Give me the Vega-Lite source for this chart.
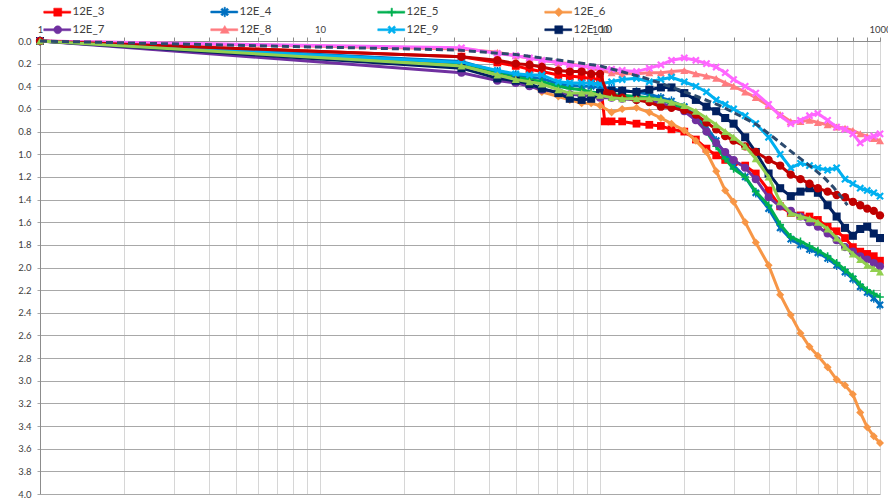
{
  "$schema": "https://vega.github.io/schema/vega-lite/v6.json",
  "width": 840,
  "height": 453,
  "autosize": {"type": "none"},
  "padding": {"left": 40, "top": 41, "right": 8, "bottom": 5},
  "background": "white",
  "config": {"view": {"stroke": null}, "font": "Lato"},
  "data": {"values": [
    {"s":"12E_3","x":1,"y":0},{"s":"12E_3","x":32,"y":0.14},{"s":"12E_3","x":43,"y":0.19},{"s":"12E_3","x":50,"y":0.22},{"s":"12E_3","x":56,"y":0.25},{"s":"12E_3","x":62,"y":0.27},{"s":"12E_3","x":71,"y":0.30},{"s":"12E_3","x":78,"y":0.31},{"s":"12E_3","x":86,"y":0.32},{"s":"12E_3","x":93,"y":0.33},{"s":"12E_3","x":100,"y":0.34},{"s":"12E_3","x":104,"y":0.71},{"s":"12E_3","x":110,"y":0.71},{"s":"12E_3","x":120,"y":0.71},{"s":"12E_3","x":135,"y":0.73},{"s":"12E_3","x":150,"y":0.74},{"s":"12E_3","x":165,"y":0.75},{"s":"12E_3","x":180,"y":0.78},{"s":"12E_3","x":200,"y":0.80},{"s":"12E_3","x":220,"y":0.87},{"s":"12E_3","x":240,"y":0.95},{"s":"12E_3","x":260,"y":1.01},{"s":"12E_3","x":280,"y":1.05},{"s":"12E_3","x":300,"y":1.07},{"s":"12E_3","x":330,"y":1.10},{"s":"12E_3","x":360,"y":1.17},{"s":"12E_3","x":400,"y":1.32},{"s":"12E_3","x":440,"y":1.46},{"s":"12E_3","x":480,"y":1.52},{"s":"12E_3","x":520,"y":1.54},{"s":"12E_3","x":560,"y":1.55},{"s":"12E_3","x":600,"y":1.58},{"s":"12E_3","x":650,"y":1.64},{"s":"12E_3","x":700,"y":1.68},{"s":"12E_3","x":750,"y":1.74},{"s":"12E_3","x":800,"y":1.82},{"s":"12E_3","x":850,"y":1.86},{"s":"12E_3","x":900,"y":1.88},{"s":"12E_3","x":950,"y":1.90},{"s":"12E_3","x":1000,"y":1.94},

    {"s":"12E_4","x":1,"y":0},{"s":"12E_4","x":32,"y":0.18},{"s":"12E_4","x":43,"y":0.27},{"s":"12E_4","x":50,"y":0.30},{"s":"12E_4","x":56,"y":0.32},{"s":"12E_4","x":62,"y":0.33},{"s":"12E_4","x":71,"y":0.38},{"s":"12E_4","x":78,"y":0.39},{"s":"12E_4","x":86,"y":0.40},{"s":"12E_4","x":93,"y":0.40},{"s":"12E_4","x":100,"y":0.41},{"s":"12E_4","x":110,"y":0.42},{"s":"12E_4","x":120,"y":0.44},{"s":"12E_4","x":135,"y":0.45},{"s":"12E_4","x":150,"y":0.47},{"s":"12E_4","x":165,"y":0.50},{"s":"12E_4","x":180,"y":0.53},{"s":"12E_4","x":200,"y":0.58},{"s":"12E_4","x":220,"y":0.66},{"s":"12E_4","x":240,"y":0.76},{"s":"12E_4","x":260,"y":0.88},{"s":"12E_4","x":280,"y":1.00},{"s":"12E_4","x":300,"y":1.10},{"s":"12E_4","x":330,"y":1.20},{"s":"12E_4","x":360,"y":1.34},{"s":"12E_4","x":400,"y":1.48},{"s":"12E_4","x":440,"y":1.65},{"s":"12E_4","x":480,"y":1.75},{"s":"12E_4","x":520,"y":1.80},{"s":"12E_4","x":560,"y":1.84},{"s":"12E_4","x":600,"y":1.87},{"s":"12E_4","x":650,"y":1.92},{"s":"12E_4","x":700,"y":1.98},{"s":"12E_4","x":750,"y":2.04},{"s":"12E_4","x":800,"y":2.10},{"s":"12E_4","x":850,"y":2.17},{"s":"12E_4","x":900,"y":2.22},{"s":"12E_4","x":950,"y":2.27},{"s":"12E_4","x":1000,"y":2.33},

    {"s":"12E_5","x":1,"y":0},{"s":"12E_5","x":32,"y":0.20},{"s":"12E_5","x":43,"y":0.29},{"s":"12E_5","x":50,"y":0.32},{"s":"12E_5","x":56,"y":0.34},{"s":"12E_5","x":62,"y":0.36},{"s":"12E_5","x":71,"y":0.40},{"s":"12E_5","x":78,"y":0.42},{"s":"12E_5","x":86,"y":0.43},{"s":"12E_5","x":93,"y":0.45},{"s":"12E_5","x":100,"y":0.46},{"s":"12E_5","x":110,"y":0.47},{"s":"12E_5","x":120,"y":0.48},{"s":"12E_5","x":135,"y":0.49},{"s":"12E_5","x":150,"y":0.50},{"s":"12E_5","x":165,"y":0.52},{"s":"12E_5","x":180,"y":0.55},{"s":"12E_5","x":200,"y":0.60},{"s":"12E_5","x":220,"y":0.68},{"s":"12E_5","x":240,"y":0.80},{"s":"12E_5","x":260,"y":0.93},{"s":"12E_5","x":280,"y":1.04},{"s":"12E_5","x":300,"y":1.13},{"s":"12E_5","x":330,"y":1.20},{"s":"12E_5","x":360,"y":1.33},{"s":"12E_5","x":400,"y":1.45},{"s":"12E_5","x":440,"y":1.62},{"s":"12E_5","x":480,"y":1.73},{"s":"12E_5","x":520,"y":1.77},{"s":"12E_5","x":560,"y":1.81},{"s":"12E_5","x":600,"y":1.85},{"s":"12E_5","x":650,"y":1.90},{"s":"12E_5","x":700,"y":1.96},{"s":"12E_5","x":750,"y":2.02},{"s":"12E_5","x":800,"y":2.08},{"s":"12E_5","x":850,"y":2.15},{"s":"12E_5","x":900,"y":2.20},{"s":"12E_5","x":950,"y":2.23},{"s":"12E_5","x":1000,"y":2.26},

    {"s":"12E_6","x":1,"y":0},{"s":"12E_6","x":32,"y":0.22},{"s":"12E_6","x":43,"y":0.30},{"s":"12E_6","x":50,"y":0.34},{"s":"12E_6","x":56,"y":0.38},{"s":"12E_6","x":62,"y":0.45},{"s":"12E_6","x":71,"y":0.49},{"s":"12E_6","x":78,"y":0.52},{"s":"12E_6","x":86,"y":0.55},{"s":"12E_6","x":93,"y":0.55},{"s":"12E_6","x":100,"y":0.57},{"s":"12E_6","x":110,"y":0.63},{"s":"12E_6","x":120,"y":0.60},{"s":"12E_6","x":135,"y":0.59},{"s":"12E_6","x":150,"y":0.63},{"s":"12E_6","x":165,"y":0.68},{"s":"12E_6","x":180,"y":0.73},{"s":"12E_6","x":200,"y":0.79},{"s":"12E_6","x":220,"y":0.88},{"s":"12E_6","x":240,"y":0.98},{"s":"12E_6","x":260,"y":1.15},{"s":"12E_6","x":280,"y":1.32},{"s":"12E_6","x":300,"y":1.42},{"s":"12E_6","x":330,"y":1.60},{"s":"12E_6","x":360,"y":1.78},{"s":"12E_6","x":400,"y":1.98},{"s":"12E_6","x":440,"y":2.24},{"s":"12E_6","x":480,"y":2.42},{"s":"12E_6","x":520,"y":2.58},{"s":"12E_6","x":560,"y":2.70},{"s":"12E_6","x":600,"y":2.78},{"s":"12E_6","x":650,"y":2.88},{"s":"12E_6","x":700,"y":2.99},{"s":"12E_6","x":750,"y":3.04},{"s":"12E_6","x":800,"y":3.12},{"s":"12E_6","x":850,"y":3.28},{"s":"12E_6","x":900,"y":3.41},{"s":"12E_6","x":950,"y":3.49},{"s":"12E_6","x":1000,"y":3.55},

    {"s":"12E_7","x":1,"y":0},{"s":"12E_7","x":32,"y":0.28},{"s":"12E_7","x":43,"y":0.35},{"s":"12E_7","x":50,"y":0.37},{"s":"12E_7","x":56,"y":0.40},{"s":"12E_7","x":62,"y":0.43},{"s":"12E_7","x":71,"y":0.45},{"s":"12E_7","x":78,"y":0.47},{"s":"12E_7","x":86,"y":0.48},{"s":"12E_7","x":93,"y":0.49},{"s":"12E_7","x":100,"y":0.50},{"s":"12E_7","x":110,"y":0.50},{"s":"12E_7","x":120,"y":0.51},{"s":"12E_7","x":135,"y":0.52},{"s":"12E_7","x":150,"y":0.53},{"s":"12E_7","x":165,"y":0.55},{"s":"12E_7","x":180,"y":0.58},{"s":"12E_7","x":200,"y":0.62},{"s":"12E_7","x":220,"y":0.70},{"s":"12E_7","x":240,"y":0.80},{"s":"12E_7","x":260,"y":0.90},{"s":"12E_7","x":280,"y":0.98},{"s":"12E_7","x":300,"y":1.05},{"s":"12E_7","x":330,"y":1.12},{"s":"12E_7","x":360,"y":1.22},{"s":"12E_7","x":400,"y":1.38},{"s":"12E_7","x":440,"y":1.46},{"s":"12E_7","x":480,"y":1.50},{"s":"12E_7","x":520,"y":1.55},{"s":"12E_7","x":560,"y":1.60},{"s":"12E_7","x":600,"y":1.64},{"s":"12E_7","x":650,"y":1.70},{"s":"12E_7","x":700,"y":1.76},{"s":"12E_7","x":750,"y":1.82},{"s":"12E_7","x":800,"y":1.86},{"s":"12E_7","x":850,"y":1.90},{"s":"12E_7","x":900,"y":1.93},{"s":"12E_7","x":950,"y":1.96},{"s":"12E_7","x":1000,"y":1.99},

    {"s":"12E_8","x":1,"y":0},{"s":"12E_8","x":32,"y":0.07},{"s":"12E_8","x":43,"y":0.10},{"s":"12E_8","x":50,"y":0.13},{"s":"12E_8","x":56,"y":0.15},{"s":"12E_8","x":62,"y":0.17},{"s":"12E_8","x":71,"y":0.19},{"s":"12E_8","x":78,"y":0.20},{"s":"12E_8","x":86,"y":0.22},{"s":"12E_8","x":93,"y":0.24},{"s":"12E_8","x":100,"y":0.26},{"s":"12E_8","x":110,"y":0.28},{"s":"12E_8","x":120,"y":0.29},{"s":"12E_8","x":135,"y":0.29},{"s":"12E_8","x":150,"y":0.28},{"s":"12E_8","x":165,"y":0.28},{"s":"12E_8","x":180,"y":0.27},{"s":"12E_8","x":200,"y":0.26},{"s":"12E_8","x":220,"y":0.29},{"s":"12E_8","x":240,"y":0.31},{"s":"12E_8","x":260,"y":0.33},{"s":"12E_8","x":280,"y":0.37},{"s":"12E_8","x":300,"y":0.40},{"s":"12E_8","x":330,"y":0.45},{"s":"12E_8","x":360,"y":0.50},{"s":"12E_8","x":400,"y":0.57},{"s":"12E_8","x":440,"y":0.65},{"s":"12E_8","x":480,"y":0.71},{"s":"12E_8","x":520,"y":0.71},{"s":"12E_8","x":560,"y":0.70},{"s":"12E_8","x":600,"y":0.72},{"s":"12E_8","x":650,"y":0.74},{"s":"12E_8","x":700,"y":0.76},{"s":"12E_8","x":750,"y":0.77},{"s":"12E_8","x":800,"y":0.79},{"s":"12E_8","x":850,"y":0.82},{"s":"12E_8","x":900,"y":0.84},{"s":"12E_8","x":950,"y":0.86},{"s":"12E_8","x":1000,"y":0.88},

    {"s":"12E_9","x":1,"y":0},{"s":"12E_9","x":32,"y":0.19},{"s":"12E_9","x":43,"y":0.26},{"s":"12E_9","x":50,"y":0.29},{"s":"12E_9","x":56,"y":0.30},{"s":"12E_9","x":62,"y":0.30},{"s":"12E_9","x":71,"y":0.36},{"s":"12E_9","x":78,"y":0.37},{"s":"12E_9","x":86,"y":0.37},{"s":"12E_9","x":93,"y":0.37},{"s":"12E_9","x":100,"y":0.38},{"s":"12E_9","x":110,"y":0.36},{"s":"12E_9","x":120,"y":0.34},{"s":"12E_9","x":135,"y":0.33},{"s":"12E_9","x":150,"y":0.36},{"s":"12E_9","x":165,"y":0.34},{"s":"12E_9","x":180,"y":0.32},{"s":"12E_9","x":200,"y":0.36},{"s":"12E_9","x":220,"y":0.40},{"s":"12E_9","x":240,"y":0.45},{"s":"12E_9","x":260,"y":0.52},{"s":"12E_9","x":280,"y":0.56},{"s":"12E_9","x":300,"y":0.60},{"s":"12E_9","x":330,"y":0.66},{"s":"12E_9","x":360,"y":0.73},{"s":"12E_9","x":400,"y":0.85},{"s":"12E_9","x":440,"y":1.00},{"s":"12E_9","x":480,"y":1.12},{"s":"12E_9","x":520,"y":1.08},{"s":"12E_9","x":560,"y":1.10},{"s":"12E_9","x":600,"y":1.12},{"s":"12E_9","x":650,"y":1.14},{"s":"12E_9","x":700,"y":1.12},{"s":"12E_9","x":750,"y":1.22},{"s":"12E_9","x":800,"y":1.26},{"s":"12E_9","x":850,"y":1.30},{"s":"12E_9","x":900,"y":1.32},{"s":"12E_9","x":950,"y":1.34},{"s":"12E_9","x":1000,"y":1.37},

    {"s":"12E_10","x":1,"y":0},{"s":"12E_10","x":32,"y":0.24},{"s":"12E_10","x":43,"y":0.33},{"s":"12E_10","x":50,"y":0.35},{"s":"12E_10","x":56,"y":0.38},{"s":"12E_10","x":62,"y":0.42},{"s":"12E_10","x":71,"y":0.46},{"s":"12E_10","x":78,"y":0.51},{"s":"12E_10","x":86,"y":0.52},{"s":"12E_10","x":93,"y":0.51},{"s":"12E_10","x":100,"y":0.46},{"s":"12E_10","x":110,"y":0.44},{"s":"12E_10","x":120,"y":0.44},{"s":"12E_10","x":135,"y":0.45},{"s":"12E_10","x":150,"y":0.43},{"s":"12E_10","x":165,"y":0.41},{"s":"12E_10","x":180,"y":0.41},{"s":"12E_10","x":200,"y":0.46},{"s":"12E_10","x":220,"y":0.52},{"s":"12E_10","x":240,"y":0.58},{"s":"12E_10","x":260,"y":0.62},{"s":"12E_10","x":280,"y":0.68},{"s":"12E_10","x":300,"y":0.73},{"s":"12E_10","x":330,"y":0.85},{"s":"12E_10","x":360,"y":0.98},{"s":"12E_10","x":400,"y":1.17},{"s":"12E_10","x":440,"y":1.30},{"s":"12E_10","x":480,"y":1.37},{"s":"12E_10","x":520,"y":1.33},{"s":"12E_10","x":560,"y":1.30},{"s":"12E_10","x":600,"y":1.34},{"s":"12E_10","x":650,"y":1.45},{"s":"12E_10","x":700,"y":1.55},{"s":"12E_10","x":750,"y":1.65},{"s":"12E_10","x":800,"y":1.72},{"s":"12E_10","x":850,"y":1.66},{"s":"12E_10","x":900,"y":1.64},{"s":"12E_10","x":950,"y":1.70},{"s":"12E_10","x":1000,"y":1.74},

    {"s":"12E_11","x":1,"y":0},{"s":"12E_11","x":32,"y":0.06},{"s":"12E_11","x":43,"y":0.11},{"s":"12E_11","x":50,"y":0.13},{"s":"12E_11","x":56,"y":0.15},{"s":"12E_11","x":62,"y":0.17},{"s":"12E_11","x":71,"y":0.19},{"s":"12E_11","x":78,"y":0.21},{"s":"12E_11","x":86,"y":0.22},{"s":"12E_11","x":93,"y":0.23},{"s":"12E_11","x":100,"y":0.24},{"s":"12E_11","x":110,"y":0.25},{"s":"12E_11","x":120,"y":0.26},{"s":"12E_11","x":135,"y":0.27},{"s":"12E_11","x":150,"y":0.24},{"s":"12E_11","x":165,"y":0.21},{"s":"12E_11","x":180,"y":0.17},{"s":"12E_11","x":200,"y":0.15},{"s":"12E_11","x":220,"y":0.17},{"s":"12E_11","x":240,"y":0.20},{"s":"12E_11","x":260,"y":0.23},{"s":"12E_11","x":280,"y":0.28},{"s":"12E_11","x":300,"y":0.34},{"s":"12E_11","x":330,"y":0.40},{"s":"12E_11","x":360,"y":0.46},{"s":"12E_11","x":400,"y":0.56},{"s":"12E_11","x":440,"y":0.66},{"s":"12E_11","x":480,"y":0.73},{"s":"12E_11","x":520,"y":0.70},{"s":"12E_11","x":560,"y":0.66},{"s":"12E_11","x":600,"y":0.64},{"s":"12E_11","x":650,"y":0.70},{"s":"12E_11","x":700,"y":0.76},{"s":"12E_11","x":750,"y":0.78},{"s":"12E_11","x":800,"y":0.82},{"s":"12E_11","x":850,"y":0.90},{"s":"12E_11","x":900,"y":0.86},{"s":"12E_11","x":950,"y":0.84},{"s":"12E_11","x":1000,"y":0.82},

    {"s":"12E_12","x":1,"y":0},{"s":"12E_12","x":32,"y":0.14},{"s":"12E_12","x":43,"y":0.17},{"s":"12E_12","x":50,"y":0.20},{"s":"12E_12","x":56,"y":0.21},{"s":"12E_12","x":62,"y":0.23},{"s":"12E_12","x":71,"y":0.26},{"s":"12E_12","x":78,"y":0.27},{"s":"12E_12","x":86,"y":0.27},{"s":"12E_12","x":93,"y":0.29},{"s":"12E_12","x":100,"y":0.29},{"s":"12E_12","x":106,"y":0.46},{"s":"12E_12","x":110,"y":0.47},{"s":"12E_12","x":120,"y":0.50},{"s":"12E_12","x":135,"y":0.52},{"s":"12E_12","x":150,"y":0.54},{"s":"12E_12","x":165,"y":0.58},{"s":"12E_12","x":180,"y":0.59},{"s":"12E_12","x":200,"y":0.61},{"s":"12E_12","x":220,"y":0.65},{"s":"12E_12","x":240,"y":0.72},{"s":"12E_12","x":260,"y":0.78},{"s":"12E_12","x":280,"y":0.84},{"s":"12E_12","x":300,"y":0.88},{"s":"12E_12","x":330,"y":0.93},{"s":"12E_12","x":360,"y":0.98},{"s":"12E_12","x":400,"y":1.05},{"s":"12E_12","x":440,"y":1.10},{"s":"12E_12","x":480,"y":1.18},{"s":"12E_12","x":520,"y":1.22},{"s":"12E_12","x":560,"y":1.26},{"s":"12E_12","x":600,"y":1.30},{"s":"12E_12","x":650,"y":1.33},{"s":"12E_12","x":700,"y":1.36},{"s":"12E_12","x":750,"y":1.38},{"s":"12E_12","x":800,"y":1.42},{"s":"12E_12","x":850,"y":1.45},{"s":"12E_12","x":900,"y":1.48},{"s":"12E_12","x":950,"y":1.50},{"s":"12E_12","x":1000,"y":1.54},

    {"s":"12E_13","x":1,"y":0},{"s":"12E_13","x":32,"y":0.22},{"s":"12E_13","x":43,"y":0.30},{"s":"12E_13","x":50,"y":0.34},{"s":"12E_13","x":56,"y":0.36},{"s":"12E_13","x":62,"y":0.38},{"s":"12E_13","x":71,"y":0.43},{"s":"12E_13","x":78,"y":0.46},{"s":"12E_13","x":86,"y":0.46},{"s":"12E_13","x":93,"y":0.46},{"s":"12E_13","x":100,"y":0.48},{"s":"12E_13","x":110,"y":0.50},{"s":"12E_13","x":120,"y":0.51},{"s":"12E_13","x":135,"y":0.51},{"s":"12E_13","x":150,"y":0.51},{"s":"12E_13","x":165,"y":0.52},{"s":"12E_13","x":180,"y":0.54},{"s":"12E_13","x":200,"y":0.57},{"s":"12E_13","x":220,"y":0.62},{"s":"12E_13","x":240,"y":0.68},{"s":"12E_13","x":260,"y":0.74},{"s":"12E_13","x":280,"y":0.80},{"s":"12E_13","x":300,"y":0.85},{"s":"12E_13","x":330,"y":0.93},{"s":"12E_13","x":360,"y":1.04},{"s":"12E_13","x":400,"y":1.20},{"s":"12E_13","x":440,"y":1.42},{"s":"12E_13","x":480,"y":1.52},{"s":"12E_13","x":520,"y":1.55},{"s":"12E_13","x":560,"y":1.57},{"s":"12E_13","x":600,"y":1.60},{"s":"12E_13","x":650,"y":1.66},{"s":"12E_13","x":700,"y":1.74},{"s":"12E_13","x":750,"y":1.82},{"s":"12E_13","x":800,"y":1.88},{"s":"12E_13","x":850,"y":1.93},{"s":"12E_13","x":900,"y":1.98},{"s":"12E_13","x":950,"y":2.01},{"s":"12E_13","x":1000,"y":2.04},

    {"s":"fit","x":1,"y":0},{"s":"fit","x":31,"y":0.08},{"s":"fit","x":50,"y":0.12},{"s":"fit","x":72,"y":0.17},{"s":"fit","x":100,"y":0.22},{"s":"fit","x":142,"y":0.32},{"s":"fit","x":182,"y":0.41},{"s":"fit","x":222,"y":0.49},{"s":"fit","x":268,"y":0.57},{"s":"fit","x":316,"y":0.66},{"s":"fit","x":364,"y":0.74},{"s":"fit","x":416,"y":0.85},{"s":"fit","x":490,"y":0.99},{"s":"fit","x":547,"y":1.08},{"s":"fit","x":628,"y":1.20},{"s":"fit","x":681,"y":1.29},{"s":"fit","x":740,"y":1.40},{"s":"fit","x":765,"y":1.45}
  ]},
  "encoding": {
    "x": {"field": "x", "type": "quantitative",
      "scale": {"type": "log", "domain": [1, 1000], "nice": false},
      "axis": {"orient": "top", "title": null, "format": "d",
        "values": [1,2,3,4,5,6,7,8,9,10,20,30,40,50,60,70,80,90,100,200,300,400,500,600,700,800,900,1000],
        "labelExpr": "(datum.value==1||datum.value==10||datum.value==100||datum.value==1000) ? datum.label : ''",
        "grid": true, "gridColor": "#D6D6D6", "gridWidth": 1,
        "domainColor": "#8C8C8C", "tickColor": "#8C8C8C", "tickSize": 4,
        "labelFont": "Lato", "labelFontSize": 9.5, "labelColor": "#404040", "labelPadding": 3,
        "labelOverlap": false, "labelFlush": false,
        "encode": {"ticks": {"update": {"opacity": {"signal": "(datum.value==1||datum.value==10||datum.value==100||datum.value==1000) ? 1 : 0"}}}}
      }},
    "y": {"field": "y", "type": "quantitative",
      "scale": {"domain": [0, 4], "reverse": true, "nice": false, "zero": false},
      "axis": {"title": null, "format": ".1f",
        "values": [0,0.2,0.4,0.6,0.8,1,1.2,1.4,1.6,1.8,2,2.2,2.4,2.6,2.8,3,3.2,3.4,3.6,3.8,4],
        "grid": true, "gridColor": "#A8A8A8", "gridWidth": 1,
        "domainColor": "#8C8C8C", "tickColor": "#A8A8A8", "tickSize": 3,
        "labelFont": "Lato", "labelFontSize": 9.5, "labelColor": "#404040", "labelPadding": 6}},
    "color": {"field": "s", "type": "nominal", "sort": null,
      "scale": {"domain": ["12E_3","12E_4","12E_5","12E_6","12E_7","12E_8","12E_9","12E_10","12E_11","12E_12","12E_13"],
                "range": ["#FF0000","#0070C0","#00B050","#F79646","#7030A0","#FF7C80","#00B0F0","#002060","#FF66FF","#C00000","#92D050"]},
      "legend": {"orient": "none", "legendX": 3, "legendY": -35, "direction": "horizontal", "columns": 4,
        "columnPadding": 97, "rowPadding": 5, "gridAlign": "all", "padding": 0, "title": null,
        "values": ["12E_3","12E_4","12E_5","12E_6","12E_7","12E_8","12E_9","12E_10"],
        "symbolSize": 100, "labelOffset": 18, "labelFont": "Lato", "labelFontSize": 11.5, "labelColor": "#404040",
        "encode": {"symbols": {"update": {
          "size": {"value": 100},
          "strokeWidth": {"value": 0.5},
          "opacity": {"value": 1},
          "fillOpacity": {"value": 1},
          "fill": {"signal": "scale('color', datum.value)"},
          "stroke": {"signal": "scale('color', datum.value)"},
          "shape": {"signal": "(datum.value=='12E_3'||datum.value=='12E_10') ? 'M-1,-0.2H4.4V0.2H-1Z M1,-0.8H2.6V0.8H1Z' : datum.value=='12E_4' ? 'M-1,-0.2H4.4V0.2H-1Z M1,-0.48L1.32,-0.8L1.8,-0.32L2.28,-0.8L2.6,-0.48L2.12,0L2.6,0.48L2.28,0.8L1.8,0.32L1.32,0.8L1,0.48L1.48,0Z M1.66,-0.95H1.94V0.95H1.66Z' : datum.value=='12E_5' ? 'M-1,-0.2H4.4V0.2H-1Z M1,-0.14H1.66V-0.8H1.94V-0.14H2.6V0.14H1.94V0.8H1.66V0.14H1Z' : datum.value=='12E_6' ? 'M-1,-0.2H4.4V0.2H-1Z M1.8,-0.9L2.7,0L1.8,0.9L0.9,0Z' : datum.value=='12E_7' ? 'M-1,-0.2H4.4V0.2H-1Z M1,0A0.8,0.8 0 1,1 2.6,0A0.8,0.8 0 1,1 1,0Z' : datum.value=='12E_8' ? 'M-1,-0.2H4.4V0.2H-1Z M1.8,-0.85L2.7,0.7H0.9Z' : 'M-1,-0.2H4.4V0.2H-1Z M1,-0.48L1.32,-0.8L1.8,-0.32L2.28,-0.8L2.6,-0.48L2.12,0L2.6,0.48L2.28,0.8L1.8,0.32L1.32,0.8L1,0.48L1.48,0Z'"}
        }}}
      }}
  },
  "layer": [
    {"transform": [{"filter": "datum.s == '12E_3'"}], "mark": {"type": "line", "strokeWidth": 3, "point": {"shape": "square", "filled": true, "size": 60, "opacity": 1}}},
    {"transform": [{"filter": "datum.s == '12E_4'"}], "mark": {"type": "line", "strokeWidth": 3, "point": {"shape": "M-1,-0.6L-0.6,-1L0,-0.4L0.6,-1L1,-0.6L0.4,0L1,0.6L0.6,1L0,0.4L-0.6,1L-1,0.6L-0.4,0Z M-0.18,-1.2H0.18V1.2H-0.18Z", "filled": true, "size": 60, "opacity": 1}}},
    {"transform": [{"filter": "datum.s == '12E_5'"}], "mark": {"type": "line", "strokeWidth": 3, "point": {"shape": "M-1,-0.2H-0.2V-1H0.2V-0.2H1V0.2H0.2V1H-0.2V0.2H-1Z", "filled": true, "size": 60, "opacity": 1}}},
    {"transform": [{"filter": "datum.s == '12E_6'"}], "mark": {"type": "line", "strokeWidth": 3, "point": {"shape": "diamond", "filled": true, "size": 65, "opacity": 1}}},
    {"transform": [{"filter": "datum.s == '12E_7'"}], "mark": {"type": "line", "strokeWidth": 3, "point": {"shape": "circle", "filled": true, "size": 65, "opacity": 1}}},
    {"transform": [{"filter": "datum.s == '12E_8'"}], "mark": {"type": "line", "strokeWidth": 3, "point": {"shape": "triangle-up", "filled": true, "size": 65, "opacity": 1}}},
    {"transform": [{"filter": "datum.s == '12E_9'"}], "mark": {"type": "line", "strokeWidth": 3, "point": {"shape": "M-1,-0.6L-0.6,-1L0,-0.4L0.6,-1L1,-0.6L0.4,0L1,0.6L0.6,1L0,0.4L-0.6,1L-1,0.6L-0.4,0Z", "filled": true, "size": 60, "opacity": 1}}},
    {"transform": [{"filter": "datum.s == '12E_10'"}], "mark": {"type": "line", "strokeWidth": 3, "point": {"shape": "square", "filled": true, "size": 65, "opacity": 1}}},
    {"transform": [{"filter": "datum.s == '12E_11'"}], "mark": {"type": "line", "strokeWidth": 3, "point": {"shape": "M-1,-0.6L-0.6,-1L0,-0.4L0.6,-1L1,-0.6L0.4,0L1,0.6L0.6,1L0,0.4L-0.6,1L-1,0.6L-0.4,0Z", "filled": true, "size": 60, "opacity": 1}}},
    {"transform": [{"filter": "datum.s == '12E_12'"}], "mark": {"type": "line", "strokeWidth": 3, "point": {"shape": "circle", "filled": true, "size": 70, "opacity": 1}}},
    {"transform": [{"filter": "datum.s == '12E_13'"}], "mark": {"type": "line", "strokeWidth": 3, "point": {"shape": "triangle-up", "filled": true, "size": 65, "opacity": 1}}},
    {"transform": [{"filter": "datum.s == 'fit'"}], "mark": {"type": "line", "color": "#2C4A6E", "strokeWidth": 3, "strokeDash": [7, 4]}, "encoding": {"color": {"value": "#2C4A6E"}}}
  ]
}
